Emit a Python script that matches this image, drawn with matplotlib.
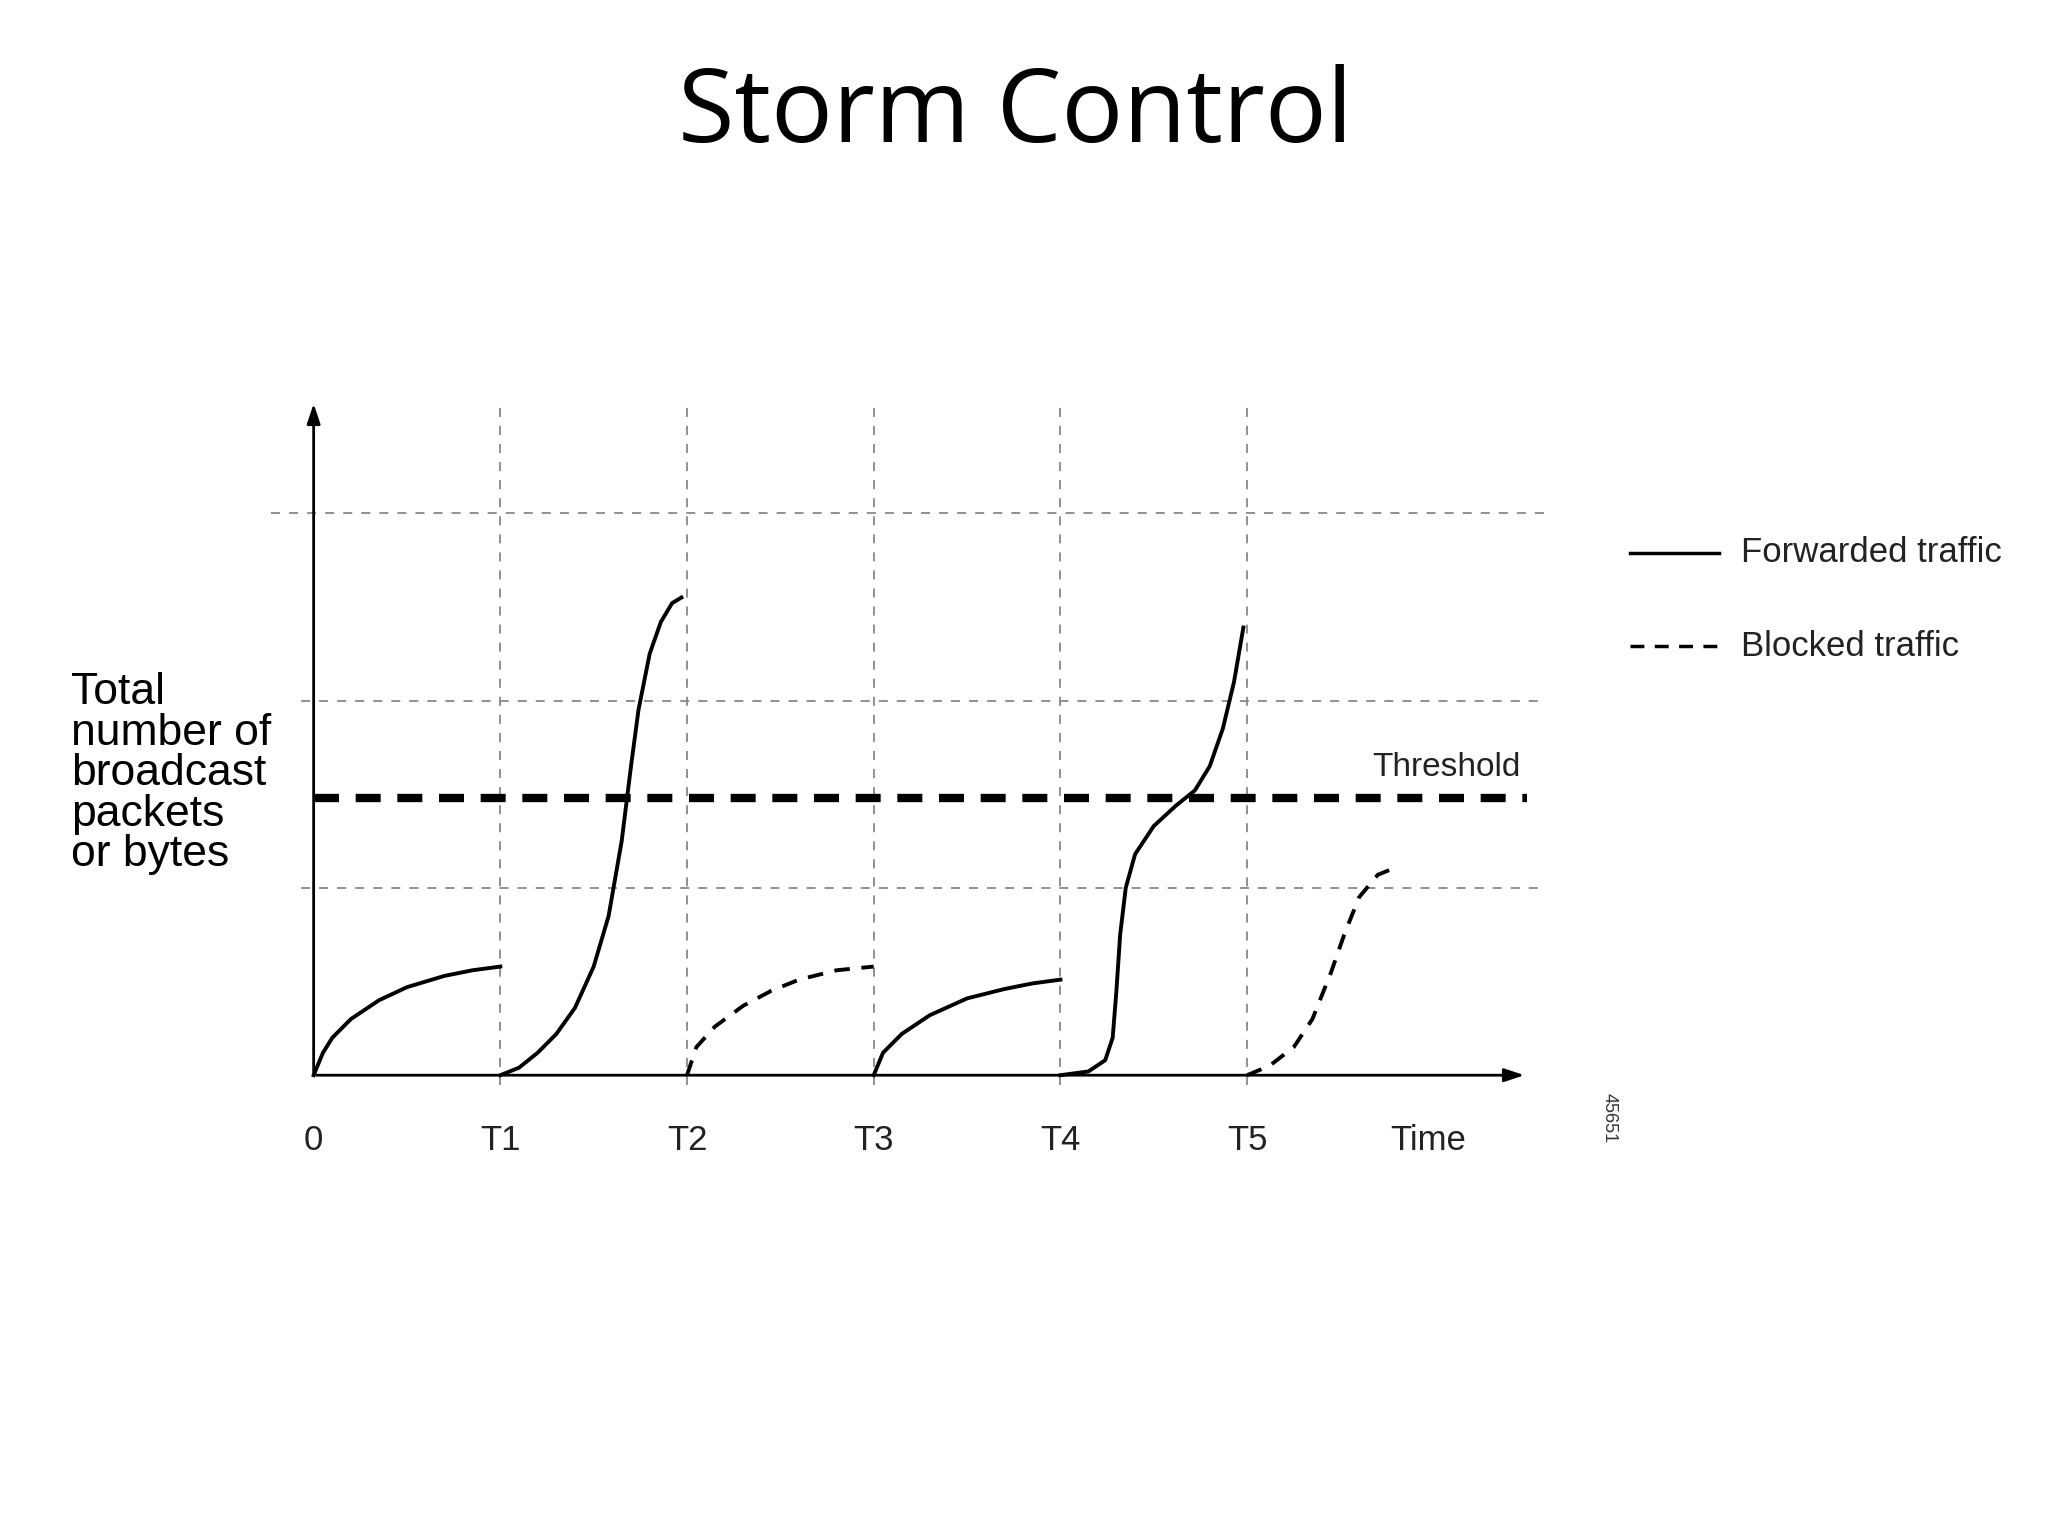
import matplotlib
matplotlib.use("Agg")
import matplotlib.pyplot as plt

periods = ["0", "T1", "T2", "T3", "T4", "T5"]
grid_levels = [1, 2, 3]
threshold = 1.48

fwd1_x = [0, 0.05, 0.1, 0.2, 0.35, 0.5, 0.7, 0.85, 1.0]
fwd1_y = [0, 0.12, 0.2, 0.3, 0.4, 0.47, 0.53, 0.56, 0.58]
fwd2_x = [1.0, 1.1, 1.2, 1.3, 1.4, 1.5, 1.58, 1.65, 1.7, 1.74, 1.8, 1.86, 1.92, 1.97]
fwd2_y = [0, 0.04, 0.12, 0.22, 0.36, 0.58, 0.85, 1.25, 1.65, 1.95, 2.25, 2.42, 2.52, 2.55]
blk1_x = [2.0, 2.05, 2.15, 2.3, 2.45, 2.6, 2.8, 3.0]
blk1_y = [0, 0.15, 0.26, 0.37, 0.45, 0.51, 0.56, 0.58]
fwd3_x = [3.0, 3.05, 3.15, 3.3, 3.5, 3.7, 3.85, 4.0]
fwd3_y = [0, 0.12, 0.22, 0.32, 0.41, 0.46, 0.49, 0.51]
fwd4_x = [4.0, 4.15, 4.24, 4.28, 4.3, 4.32, 4.35, 4.4, 4.5, 4.62, 4.72, 4.8, 4.87, 4.93, 4.98]
fwd4_y = [0, 0.02, 0.08, 0.2, 0.45, 0.75, 1.0, 1.18, 1.33, 1.44, 1.52, 1.65, 1.85, 2.1, 2.39]
blk2_x = [5.0, 5.12, 5.25, 5.35, 5.45, 5.52, 5.6, 5.7, 5.8]
blk2_y = [0, 0.05, 0.15, 0.3, 0.55, 0.75, 0.95, 1.07, 1.11]

fig = plt.figure(figsize=(20.48, 15.36), dpi=100)
ax = fig.add_axes([0, 0, 1, 1])
ax.set_xlim(-1.68, 9.29)
ax.set_ylim(-2.46, 5.74)
ax.axis("off")

fig.text(0.496, 0.925, "Storm Control", ha="center", va="center",
         fontsize=74, family="Open Sans")

gc = "#888888"
for lv in grid_levels:
    x0 = -0.23 if lv == 3 else -0.07
    ax.plot([x0, 6.59], [lv, lv], ls=(0, (5, 5)), color=gc, lw=1.3)
for i in range(1, 6):
    ax.plot([i, i], [-0.05, 3.6], ls=(0, (5, 5)), color=gc, lw=1.3)

ax.annotate("", xy=(0, 3.6), xytext=(0, 0),
            arrowprops=dict(arrowstyle="-|>,head_length=1.2,head_width=0.4", color="black", lw=2))
ax.annotate("", xy=(6.5, 0), xytext=(0, 0),
            arrowprops=dict(arrowstyle="-|>,head_length=1.2,head_width=0.4", color="black", lw=2))

ax.plot([0.0, 6.5], [threshold, threshold], color="black", lw=6, ls=(0, (3, 2)))
ax.text(6.07, threshold + 0.08, "Threshold", ha="center", va="bottom", fontsize=24,
        family="Liberation Sans", color="#222222")

for xs, ys in [(fwd1_x, fwd1_y), (fwd2_x, fwd2_y), (fwd3_x, fwd3_y), (fwd4_x, fwd4_y)]:
    ax.plot(xs, ys, color="black", lw=2.8)
for xs, ys in [(blk1_x, blk1_y), (blk2_x, blk2_y)]:
    ax.plot(xs, ys, color="black", lw=2.8, ls=(0, (4, 3)))

for i, lab in enumerate(periods):
    ax.text(i, -0.35, lab, ha="center", va="center", fontsize=25,
            family="Liberation Sans", color="#222222")
ax.text(5.97, -0.35, "Time", ha="center", va="center", fontsize=25,
        family="Liberation Sans", color="#222222")
ax.text(6.94, -0.23, "45651", ha="center", va="center", fontsize=13,
        rotation=-90, family="Liberation Sans", color="#333333")

ax.text(-1.3, 2.15, "Total\nnumber of\nbroadcast\npackets\nor bytes", ha="left", va="top",
        fontsize=32, family="Liberation Sans", linespacing=0.98)

ax.plot([7.053, 7.527], [2.79, 2.79], color="black", lw=2.5)
ax.text(7.647, 2.79, "Forwarded traffic", ha="left", va="center", fontsize=25,
        family="Liberation Sans", color="#222222")
ax.plot([7.053, 7.527], [2.29, 2.29], color="black", lw=2.5, ls=(0, (4, 3)))
ax.text(7.647, 2.29, "Blocked traffic", ha="left", va="center", fontsize=25,
        family="Liberation Sans", color="#222222")

fig.savefig("out.png", dpi=100)
